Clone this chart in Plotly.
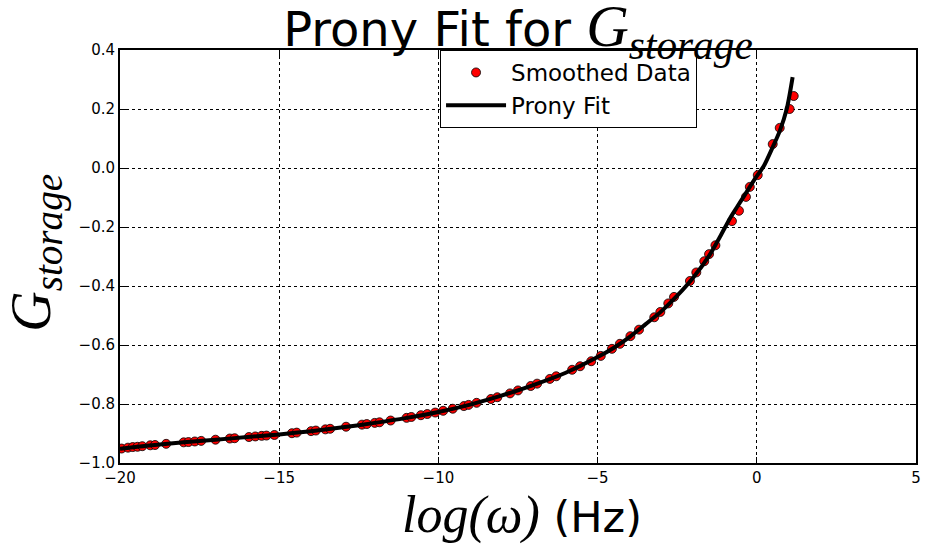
import plotly.graph_objects as go

# Smoothed data points
data_x = [-19.95, -19.75, -19.6, -19.45, -19.3, -19.05, -18.9, -18.55, -18.0, -17.85,
          -17.65, -17.45, -17.0, -16.55, -16.4, -15.95, -15.75, -15.55, -15.4, -15.15,
          -14.6, -14.45, -14.0, -13.85, -13.55, -13.4, -12.9, -12.4, -12.25, -12.0,
          -11.85, -11.5, -11.0, -10.85, -10.55, -10.35, -10.1, -9.85, -9.55, -9.2,
          -9.05, -8.8, -8.35, -8.15, -7.75, -7.5, -7.1, -6.9, -6.5, -6.3,
          -5.8, -5.55, -5.2, -4.9, -4.55, -4.3, -3.97, -3.7, -3.22, -3.03,
          -2.78, -2.6, -2.1, -1.9, -1.65, -1.5, -1.3, -0.78, -0.56, -0.34,
          -0.22, 0.03, 0.5, 0.72, 1.03, 1.16]
data_y = [-0.951, -0.948, -0.946, -0.945, -0.943, -0.940, -0.939, -0.935, -0.930, -0.929,
          -0.927, -0.925, -0.921, -0.917, -0.916, -0.912, -0.910, -0.908, -0.907, -0.905,
          -0.899, -0.897, -0.892, -0.890, -0.886, -0.884, -0.877, -0.870, -0.868, -0.864,
          -0.862, -0.856, -0.847, -0.844, -0.838, -0.834, -0.829, -0.823, -0.816, -0.807,
          -0.803, -0.796, -0.783, -0.777, -0.764, -0.754, -0.739, -0.731, -0.715, -0.706,
          -0.684, -0.672, -0.655, -0.637, -0.613, -0.596, -0.570, -0.548, -0.506, -0.488,
          -0.459, -0.437, -0.383, -0.354, -0.316, -0.292, -0.262, -0.180, -0.145, -0.098,
          -0.064, -0.024, 0.081, 0.136, 0.200, 0.244]

# Prony fit curve
fit_x = [-20, -19, -18, -17, -16, -15, -14, -13, -12, -11, -10, -9, -8, -7, -6, -5,
         -4.5, -4, -3.5, -3, -2.5, -2, -1.5, -1.16, -0.84, -0.625, -0.41, -0.06,
         0.22, 0.5, 0.72, 0.94, 1.125]
fit_y = [-0.952, -0.940, -0.930, -0.921, -0.912, -0.903, -0.892, -0.879, -0.864, -0.847,
         -0.827, -0.802, -0.771, -0.735, -0.694, -0.641, -0.610, -0.573, -0.530, -0.486,
         -0.433, -0.372, -0.298, -0.234, -0.170, -0.133, -0.097, -0.037, 0.007, 0.071,
         0.125, 0.200, 0.308]

x_ticks = [-20, -15, -10, -5, 0, 5]
x_ticklabels = ["\u221220", "\u221215", "\u221210", "\u22125", "0", "5"]
y_ticks = [-1.0, -0.8, -0.6, -0.4, -0.2, 0.0, 0.2, 0.4]
y_ticklabels = ["\u22121.0", "\u22120.8", "\u22120.6", "\u22120.4", "\u22120.2", "0.0", "0.2", "0.4"]

SERIF = "Liberation Serif"
SANS = "DejaVu Sans"

fig = go.Figure()
fig.add_trace(go.Scatter(
    x=data_x, y=data_y, mode="markers", name="Smoothed Data",
    marker=dict(color="red", size=9, line=dict(color="black", width=0.8)),
))
fig.add_trace(go.Scatter(
    x=fit_x, y=fit_y, mode="lines", name="Prony Fit",
    line=dict(color="black", width=4, shape="spline", smoothing=0.8),
))

axis_common = dict(
    showline=True, linecolor="black", linewidth=2, mirror="ticks",
    ticks="inside", ticklen=6, tickwidth=1, tickcolor="black",
    showgrid=True, gridcolor="black", gridwidth=1, griddash="dot",
    zeroline=False, tickfont=dict(family=SANS, size=15, color="black"),
)

fig.update_xaxes(range=[-20, 5], tickvals=x_ticks, ticktext=x_ticklabels, **axis_common)
fig.update_yaxes(range=[-1.0, 0.4], tickvals=y_ticks, ticktext=y_ticklabels, **axis_common)

fig.update_layout(
    width=925, height=546,
    margin=dict(l=120, r=4, t=50, b=83),
    paper_bgcolor="white", plot_bgcolor="white",
    showlegend=True,
    legend=dict(
        x=0.5635, y=1.0, xanchor="center", yanchor="top",
        bgcolor="white", bordercolor="black", borderwidth=1,
        font=dict(family=SANS, size=23, color="black"),
        itemwidth=60, tracegroupgap=4,
    ),
    title=dict(
        text=("Prony Fit for <span style='font-family:" + SERIF + ";font-size:59px'>"
              "<i>G<sub>storage</sub></i></span>"),
        x=0.5, xref="paper", xanchor="center",
        y=0.946, yref="container", yanchor="middle",
        font=dict(family=SANS, size=48, color="black"),
    ),
    annotations=[
        dict(
            text="<i>G<sub>storage</sub></i>",
            xref="paper", yref="paper", x=-0.106, y=0.508,
            xanchor="center", yanchor="middle", textangle=-90, showarrow=False,
            font=dict(family=SERIF, size=56, color="black"),
        ),
        dict(
            text=("<span style='font-family:" + SERIF + ";font-size:52px'><i>log(\u03c9)</i></span> (Hz)"),
            xref="paper", yref="paper", x=0.505, y=-0.125,
            xanchor="center", yanchor="middle", showarrow=False,
            font=dict(family=SANS, size=43, color="black"),
        ),
    ],
)

fig.write_html("out.html")
